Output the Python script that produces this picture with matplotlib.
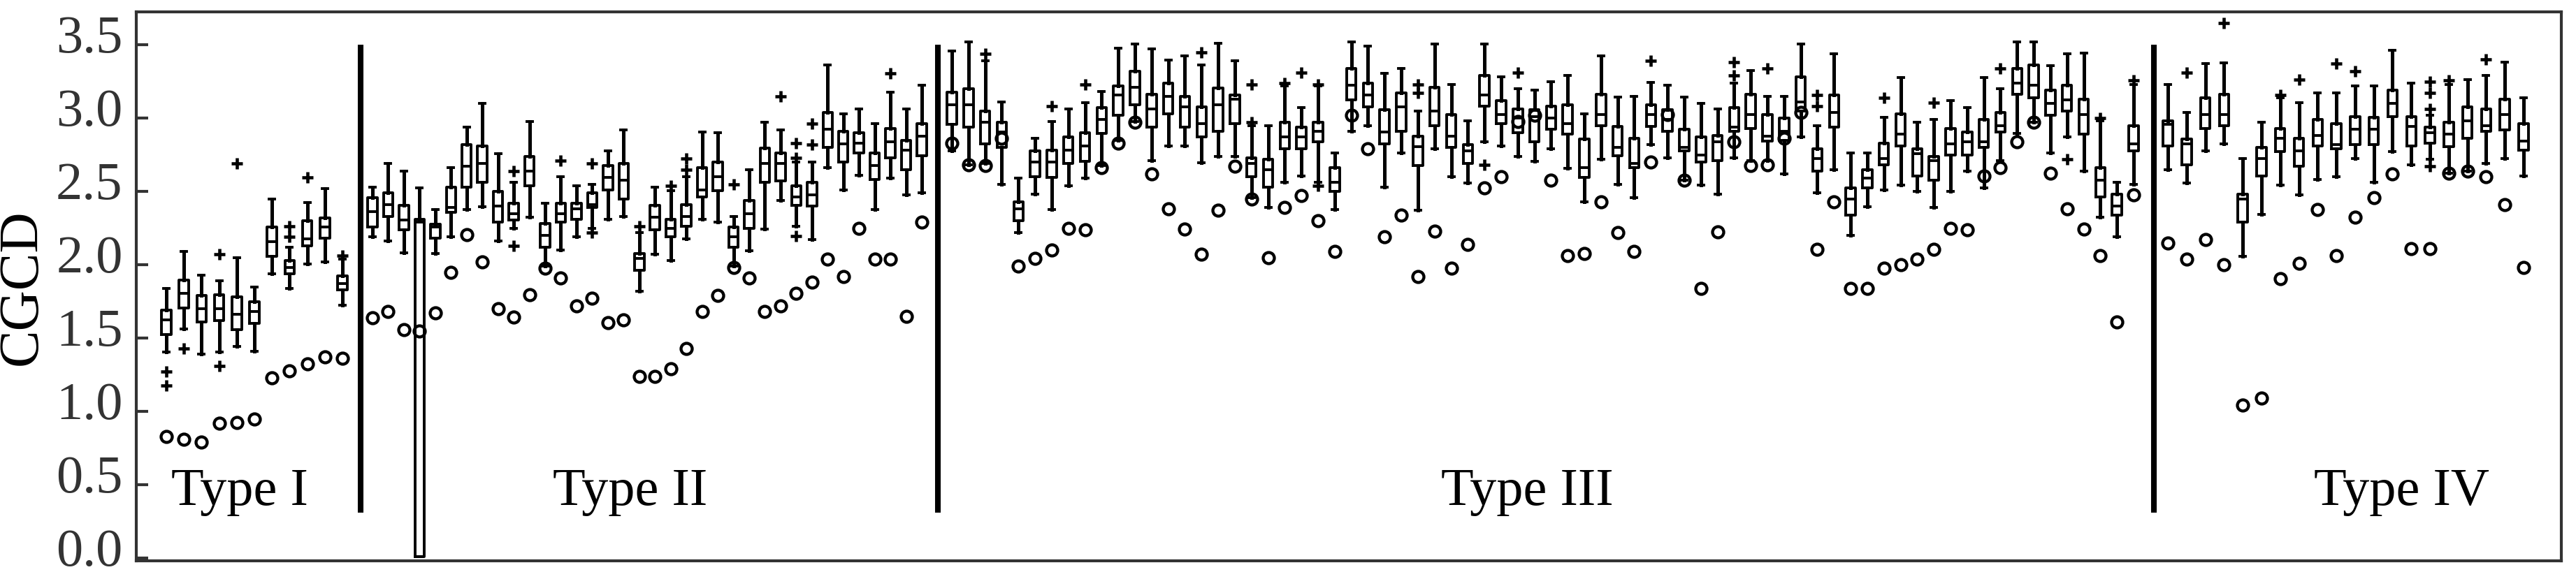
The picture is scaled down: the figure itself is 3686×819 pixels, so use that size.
import numpy as np
import matplotlib
matplotlib.use("Agg")
import matplotlib.pyplot as plt
from matplotlib.transforms import ScaledTranslation

plt.rcParams['font.family'] = ['Liberation Serif', 'DejaVu Serif']

# box stats per sample: (whisker low, q1, median, q3, whisker high)
type1_boxes = [
    (1.405, 1.525, 1.625, 1.69, 1.84), (1.56, 1.705, 1.805, 1.895, 2.09),
    (1.39, 1.61, 1.70, 1.79, 1.93), (1.405, 1.62, 1.70, 1.795, 1.89),
    (1.445, 1.555, 1.66, 1.78, 2.05), (1.41, 1.60, 1.68, 1.75, 1.85),
    (1.94, 2.055, 2.155, 2.255, 2.45), (1.84, 1.94, 1.98, 2.03, 2.12),
    (2.005, 2.13, 2.175, 2.30, 2.425), (2.02, 2.18, 2.255, 2.32, 2.52),
    (1.725, 1.83, 1.87, 1.925, 2.04),
]
type1_fliers = [[1.27, 1.175], [1.43], [], [2.07, 1.31], [2.69], [], [],
                [2.26, 2.19], [2.595], [], [2.06]]
type1_ref = [0.83, 0.81, 0.79, 0.92, 0.925, 0.95, 1.23, 1.275, 1.325, 1.37, 1.36]

type2_boxes = [
    (2.19, 2.255, 2.36, 2.455, 2.53), (2.16, 2.33, 2.41, 2.49, 2.69),
    (2.08, 2.24, 2.305, 2.405, 2.64), (0.01, 0.01, 2.29, 2.31, 2.525),
    (2.075, 2.18, 2.255, 2.275, 2.375), (2.19, 2.355, 2.39, 2.53, 2.66),
    (2.375, 2.53, 2.67, 2.82, 2.94), (2.395, 2.56, 2.69, 2.81, 3.10),
    (2.16, 2.29, 2.40, 2.50, 2.755), (2.25, 2.305, 2.35, 2.42, 2.56),
    (2.325, 2.54, 2.64, 2.74, 2.975), (1.99, 2.12, 2.20, 2.28, 2.42),
    (2.10, 2.29, 2.35, 2.42, 2.60), (2.19, 2.31, 2.38, 2.42, 2.54),
    (2.25, 2.39, 2.41, 2.49, 2.55), (2.31, 2.51, 2.595, 2.675, 2.775),
    (2.33, 2.45, 2.575, 2.69, 2.92), (1.82, 1.96, 2.045, 2.075, 2.22),
    (2.07, 2.24, 2.325, 2.405, 2.53), (2.03, 2.19, 2.25, 2.31, 2.505),
    (2.175, 2.26, 2.33, 2.41, 2.60), (2.31, 2.46, 2.51, 2.66, 2.905),
    (2.29, 2.505, 2.60, 2.70, 2.90), (1.99, 2.12, 2.19, 2.255, 2.33),
    (2.095, 2.25, 2.35, 2.44, 2.65), (2.245, 2.56, 2.69, 2.795, 2.97),
    (2.44, 2.57, 2.69, 2.76, 2.92), (2.26, 2.405, 2.46, 2.54, 2.70),
    (2.17, 2.40, 2.475, 2.56, 2.70), (2.66, 2.80, 2.925, 3.04, 3.36),
    (2.51, 2.70, 2.825, 2.91, 3.03), (2.61, 2.76, 2.83, 2.90, 3.06),
    (2.375, 2.58, 2.675, 2.76, 2.96), (2.59, 2.73, 2.84, 2.93, 3.175),
    (2.475, 2.65, 2.78, 2.85, 3.06), (2.49, 2.745, 2.875, 2.96, 3.225),
]
type2_fliers = [[], [], [], [], [], [], [], [], [], [2.64, 2.13], [], [],
                [2.71], [], [2.69, 2.22], [], [], [2.26], [], [2.54],
                [2.725, 2.65], [], [], [2.55], [], [], [3.15],
                [2.83, 2.73, 2.195], [2.96, 2.82], [], [], [], [], [3.305], [], []]
type2_ref = [1.64, 1.68, 1.555, 1.55, 1.67, 1.95, 2.205, 2.02, 1.70, 1.645,
             1.795, 1.975, 1.91, 1.72, 1.77, 1.605, 1.625, 1.24, 1.24, 1.29,
             1.43, 1.68, 1.79, 1.98, 1.91, 1.68, 1.72, 1.805, 1.88, 2.04,
             1.92, 2.25, 2.04, 2.04, 1.65, 2.29]

type3_boxes = [
    (2.775, 2.955, 3.09, 3.175, 3.455), (2.68, 2.94, 3.09, 3.20, 3.52),
    (2.69, 2.825, 2.97, 3.05, 3.39), (2.55, 2.80, 2.905, 2.97, 3.11),
    (2.22, 2.30, 2.38, 2.43, 2.59), (2.48, 2.60, 2.70, 2.775, 2.86),
    (2.375, 2.595, 2.70, 2.78, 2.975), (2.54, 2.69, 2.78, 2.87, 3.06),
    (2.59, 2.705, 2.81, 2.90, 3.105), (2.675, 2.895, 2.99, 3.07, 3.18),
    (2.85, 3.02, 3.155, 3.22, 3.475), (2.975, 3.09, 3.21, 3.32, 3.505),
    (2.71, 2.94, 3.06, 3.16, 3.47), (2.81, 3.03, 3.15, 3.24, 3.395),
    (2.81, 2.94, 3.075, 3.15, 3.425), (2.695, 2.87, 2.96, 3.075, 3.36),
    (2.74, 2.91, 3.09, 3.205, 3.51), (2.74, 2.96, 3.13, 3.155, 3.39),
    (2.455, 2.60, 2.69, 2.73, 2.95), (2.39, 2.53, 2.65, 2.72, 2.95),
    (2.56, 2.79, 2.87, 2.97, 3.22), (2.605, 2.79, 2.87, 2.94, 3.07),
    (2.56, 2.84, 2.91, 2.97, 3.22), (2.375, 2.50, 2.56, 2.66, 2.76),
    (2.91, 3.125, 3.225, 3.34, 3.52), (2.95, 3.075, 3.155, 3.24, 3.49),
    (2.53, 2.825, 2.905, 3.055, 3.305), (2.76, 2.91, 3.075, 3.17, 3.34),
    (2.37, 2.675, 2.805, 2.875, 3.05), (2.79, 2.95, 3.05, 3.21, 3.505),
    (2.60, 2.80, 2.875, 3.025, 3.23), (2.555, 2.69, 2.775, 2.82, 2.98),
    (2.84, 3.08, 3.155, 3.29, 3.505), (2.81, 2.96, 3.025, 3.12, 3.28),
    (2.74, 2.90, 3.00, 3.06, 3.20), (2.705, 2.84, 3.01, 3.055, 3.19),
    (2.79, 2.925, 3.00, 3.08, 3.25), (2.655, 2.89, 2.96, 3.09, 3.29),
    (2.43, 2.595, 2.66, 2.855, 3.03), (2.72, 2.95, 3.025, 3.16, 3.425),
    (2.55, 2.745, 2.80, 2.945, 3.145), (2.455, 2.66, 2.69, 2.86, 3.15),
    (2.82, 2.945, 3.025, 3.09, 3.245), (2.73, 2.91, 2.99, 3.055, 3.225),
    (2.575, 2.775, 2.80, 2.925, 3.145), (2.545, 2.70, 2.75, 2.87, 3.10),
    (2.48, 2.71, 2.84, 2.88, 3.06), (2.73, 2.91, 2.94, 3.07, 3.24),
    (2.71, 2.93, 3.025, 3.16, 3.325), (2.71, 2.845, 2.875, 3.025, 3.15),
    (2.62, 2.85, 2.91, 3.00, 3.15), (2.87, 3.05, 3.11, 3.28, 3.505),
    (2.49, 2.64, 2.725, 2.79, 2.95), (2.65, 2.94, 3.04, 3.155, 3.44),
    (2.20, 2.34, 2.45, 2.525, 2.76), (2.395, 2.525, 2.59, 2.65, 2.76),
    (2.51, 2.68, 2.725, 2.83, 3.005), (2.545, 2.81, 2.89, 3.03, 3.275),
    (2.50, 2.605, 2.755, 2.79, 2.97), (2.39, 2.575, 2.71, 2.74, 2.99),
    (2.50, 2.75, 2.825, 2.93, 3.12), (2.64, 2.75, 2.84, 2.905, 3.07),
    (2.525, 2.80, 2.84, 2.99, 3.275), (2.71, 2.905, 2.95, 3.04, 3.20),
    (2.895, 3.16, 3.24, 3.34, 3.52), (2.97, 3.14, 3.225, 3.36, 3.52),
    (2.76, 3.02, 3.10, 3.19, 3.355), (2.87, 3.05, 3.125, 3.225, 3.44),
    (2.64, 2.89, 3.025, 3.13, 3.445), (2.325, 2.46, 2.575, 2.66, 2.98),
    (2.19, 2.34, 2.40, 2.48, 2.56), (2.55, 2.775, 2.825, 2.95, 3.23),
]
type3_fliers = [[], [], [3.44], [], [], [], [3.08], [], [3.23], [], [], [], [],
                [], [], [3.45], [], [], [3.23, 2.97], [], [3.24], [3.31],
                [3.23, 2.54], [], [], [], [], [], [3.23, 3.17], [], [], [],
                [2.68], [], [3.31], [], [], [], [], [], [], [], [3.39], [],
                [], [], [], [3.38, 3.29], [], [3.34], [], [], [3.155, 3.08],
                [], [], [], [3.14], [], [], [3.105], [], [], [], [3.34], [],
                [], [], [2.72], [], [3.00], [], [3.255]]
type3_ref = [2.83, 2.68, 2.675, 2.86, 1.99, 2.045, 2.10, 2.25, 2.24, 2.66,
             2.83, 2.97, 2.62, 2.38, 2.245, 2.07, 2.37, 2.67, 2.45, 2.05,
             2.39, 2.47, 2.30, 2.09, 3.02, 2.79, 2.19, 2.34, 1.92, 2.23,
             1.975, 2.14, 2.525, 2.60, 2.975, 3.02, 2.575, 2.06, 2.075, 2.43,
             2.22, 2.09, 2.70, 3.025, 2.575, 1.84, 2.225, 2.84, 2.675, 2.68,
             2.86, 3.04, 2.105, 2.43, 1.84, 1.84, 1.975, 2.0, 2.04, 2.105,
             2.25, 2.24, 2.605, 2.66, 2.84, 2.97, 2.625, 2.38, 2.245, 2.06,
             1.61, 2.475]

type4_boxes = [
    (2.65, 2.81, 2.955, 2.98, 3.23), (2.555, 2.68, 2.825, 2.855, 3.04),
    (2.775, 2.93, 3.025, 3.14, 3.37), (2.825, 2.95, 3.025, 3.16, 3.375),
    (2.055, 2.29, 2.45, 2.48, 2.725), (2.345, 2.605, 2.725, 2.80, 2.97),
    (2.545, 2.77, 2.86, 2.93, 3.14), (2.475, 2.67, 2.775, 2.86, 3.105),
    (2.58, 2.81, 2.88, 2.99, 3.17), (2.60, 2.79, 2.82, 2.96, 3.17),
    (2.725, 2.82, 2.925, 3.01, 3.22), (2.56, 2.82, 2.925, 3.005, 3.22),
    (2.77, 3.01, 3.10, 3.19, 3.46), (2.68, 2.81, 2.945, 3.01, 3.24),
    (2.72, 2.83, 2.90, 2.94, 3.02), (2.625, 2.805, 2.89, 2.97, 3.23),
    (2.64, 2.86, 2.98, 3.075, 3.26), (2.69, 2.91, 2.95, 3.06, 3.29),
    (2.725, 2.92, 3.025, 3.13, 3.38), (2.605, 2.78, 2.845, 2.96, 3.14),
]
type4_fliers = [[], [3.31], [], [3.65], [], [], [3.155], [3.26], [], [3.37],
                [3.32], [], [], [], [3.25, 3.17, 3.06, 2.67], [3.255], [],
                [3.40], [], []]
type4_ref = [2.15, 2.04, 2.17, 2.0, 1.045, 1.09, 1.905, 2.01, 2.375, 2.06,
             2.325, 2.455, 2.62, 2.11, 2.11, 2.625, 2.64, 2.60, 2.41, 1.98]

group_names = ['Type I', 'Type II', 'Type III', 'Type IV']

# layout (x in axes pixel units)
group_span = [(238, 490), (533, 1319), (1362, 3053), (3102, 3611)]
separators = [516, 1342, 3082]
label_x = [343, 902, 2185, 3436]

fig = plt.figure(figsize=(36.86, 8.2), dpi=100)
ax = fig.add_axes([195 / 3686, 16 / 820, (3665 - 195) / 3686, 786 / 820])

groups = [(type1_boxes, type1_fliers, type1_ref),
          (type2_boxes, type2_fliers, type2_ref),
          (type3_boxes, type3_fliers, type3_ref),
          (type4_boxes, type4_fliers, type4_ref)]

for (boxes, fliers, ref), (x0, x1) in zip(groups, group_span):
    pos = np.linspace(x0, x1, len(boxes))
    stats = []
    for (lo, q1, med, q3, hi), fl in zip(boxes, fliers):
        stats.append(dict(whislo=lo, q1=q1, med=med, q3=q3, whishi=hi, fliers=fl))
    ax.bxp(stats, positions=pos, widths=13.5, capwidths=8, manage_ticks=False,
           boxprops=dict(color='black', linewidth=2.8),
           whiskerprops=dict(color='black', linewidth=3.6),
           capprops=dict(color='black', linewidth=2.8),
           medianprops=dict(color='black', linewidth=2.8),
           flierprops=dict(marker='+', markersize=11.5, markeredgewidth=3.3,
                           markeredgecolor='black'))
    ax.plot(pos, ref, 'o', ms=11.5, mew=3.1, mfc='none', mec='black', zorder=5)

for sx in separators:
    ax.plot([sx, sx], [0.31, 3.5], color='black', linewidth=5.8, solid_capstyle='butt')

for name, lx in zip(group_names, label_x):
    ax.text(lx, 0.365, name, ha='center', va='baseline', fontsize=55, color='black')

ax.set_xlim(195, 3665)
ax.set_ylim(-0.019, 3.724)
ax.set_xticks([])
ax.set_yticks(np.arange(0, 3.51, 0.5))
ax.set_yticklabels(['%.1f' % v for v in np.arange(0, 3.51, 0.5)])
ax.tick_params(axis='y', direction='in', length=12, width=3, pad=14,
               labelsize=55, color='#333333', labelcolor='#333333')
# labels sit a little above their ticks in the original
shift = ScaledTranslation(0, -10 / 100, fig.dpi_scale_trans)
for lab in ax.get_yticklabels():
    lab.set_va('baseline')
    lab.set_transform(lab.get_transform() + shift)
ax.set_ylabel('CGCD', fontsize=58, labelpad=8, color='black')
for sp in ax.spines.values():
    sp.set_color('#333333')
    sp.set_linewidth(3)

fig.savefig('out.png', dpi=100)
